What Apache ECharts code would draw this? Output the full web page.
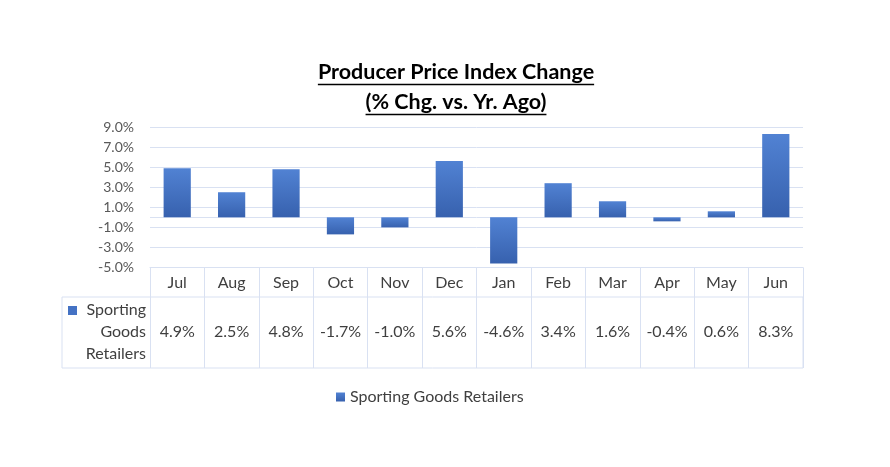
<!DOCTYPE html>
<html style="height: 100%">
  <head>
    <meta charset="utf-8" />
  </head>
  <body style="height: 100%; margin: 0; background: #fff">
    <div id="container" style="width: 890px; height: 467px"></div>
    <script type="text/javascript" src="https://cdn.jsdelivr.net/npm/echarts@6/dist/echarts.min.js"></script>
    <script type="text/javascript">
      var months = ['Jul', 'Aug', 'Sep', 'Oct', 'Nov', 'Dec', 'Jan', 'Feb', 'Mar', 'Apr', 'May', 'Jun'];
      var retailers = [4.9, 2.5, 4.8, -1.7, -1.0, 5.6, -4.6, 3.4, 1.6, -0.4, 0.6, 8.3];
      var yLabels = [-5, -3, -1, 1, 3, 5, 7, 9];
      var yLines = [-5, -3, -1, 0, 1, 3, 5, 7, 9];
      var seriesName = 'Sporting Goods Retailers';
      var titleLines = ['Producer Price Index Change', '(% Chg. vs. Yr. Ago)'];

      var FONT = 'Lato, "Open Sans", sans-serif';
      var gridColor = '#d9e1f2';
      var textColor = '#3f3f3f';
      // plot / table box (px)
      var plotLeft = 150, plotRight = 803, plotTop = 127, axisY = 267.5, tableBottom = 368, rowSplit = 297;
      var yMin = -5, yMax = 9;

      function pct(v) {
        return v.toFixed(1) + '%';
      }

      // axis ticks every 1, only some get a line / label
      var lineColors = [];
      for (var v = yMin; v <= yMax; v++) {
        lineColors.push(yLines.indexOf(v) >= 0 ? gridColor : 'rgba(0,0,0,0)');
      }

      // width of title text for the underline
      var titleFont = 'bold 21.5px ' + FONT;
      var ctx = document.createElement('canvas').getContext('2d');
      ctx.font = titleFont;
      var titleCx = 456;
      var titleY = [72, 102];
      var titleGraphics = [];
      titleLines.forEach(function (t, i) {
        var w = ctx.measureText(t).width;
        titleGraphics.push({
          type: 'text',
          style: { text: t, x: titleCx, y: titleY[i], textAlign: 'center', textVerticalAlign: 'middle',
                   font: titleFont, fill: '#000' }
        });
        titleGraphics.push({
          type: 'line',
          shape: { x1: titleCx - w / 2, y1: titleY[i] + 12.5, x2: titleCx + w / 2, y2: titleY[i] + 12.5 },
          style: { stroke: '#000', lineWidth: 1.5 }
        });
      });

      var myChart = echarts.init(document.getElementById('container'));

      var option = {
        animation: false,
        grid: [
          { left: plotLeft, right: 890 - plotRight, top: plotTop, height: axisY - plotTop },
          { left: plotLeft, right: 890 - plotRight, top: axisY, height: tableBottom - axisY }
        ],
        legend: {
          data: [seriesName],
          left: 331,
          top: 384,
          icon: 'rect',
          itemWidth: 9,
          itemHeight: 9,
          itemGap: 4,
          textStyle: { fontSize: 16, color: textColor, fontFamily: FONT }
        },
        xAxis: [
          {
            type: 'category',
            gridIndex: 0,
            data: months,
            position: 'bottom',
            axisLine: { onZero: false, lineStyle: { color: gridColor } },
            axisTick: { show: false },
            axisLabel: { margin: 7, fontSize: 16, color: textColor, fontFamily: FONT }
          },
          {
            type: 'category',
            gridIndex: 1,
            data: months,
            position: 'bottom',
            axisLine: { show: false },
            axisTick: { show: false },
            splitLine: { show: true, lineStyle: { color: gridColor } },
            axisLabel: {
              inside: true,
              margin: 36,
              verticalAlign: 'middle',
              fontSize: 16,
              color: textColor,
              fontFamily: FONT,
              formatter: function (v, i) {
                return pct(retailers[i]);
              }
            }
          }
        ],
        yAxis: [
          {
            type: 'value',
            gridIndex: 0,
            min: yMin,
            max: yMax,
            interval: 1,
            axisLine: { show: false },
            axisTick: { show: false },
            splitLine: { lineStyle: { color: lineColors } },
            axisLabel: {
              margin: 16,
              fontSize: 14,
              color: '#595959',
              fontFamily: FONT,
              formatter: function (v) {
                return yLabels.indexOf(v) >= 0 ? pct(v) : '';
              }
            }
          },
          { type: 'value', gridIndex: 1, show: false, splitLine: { show: false } }
        ],
        graphic: titleGraphics.concat([
          {
            type: 'rect',
            shape: { x: 62, y: rowSplit, width: plotRight - 62, height: tableBottom - rowSplit },
            style: { fill: 'none', stroke: gridColor, lineWidth: 1 }
          },
          {
            type: 'rect',
            shape: { x: 68, y: 306, width: 9, height: 9 },
            style: { fill: '#4472c4' }
          },
          {
            type: 'text',
            style: { text: 'Sporting\nGoods\nRetailers', x: 146, y: 299, textAlign: 'right',
                     font: '16px ' + FONT, lineHeight: 22, fill: textColor }
          }
        ]),
        series: [
          {
            name: seriesName,
            type: 'bar',
            xAxisIndex: 0,
            yAxisIndex: 0,
            barWidth: '50%',
            data: retailers,
            itemStyle: {
              color: new echarts.graphic.LinearGradient(0, 0, 0, 1, [
                { offset: 0, color: '#5182d3' },
                { offset: 1, color: '#3761ae' }
              ])
            }
          },
          {
            // invisible series that carries the data table axis
            name: 'table',
            type: 'line',
            xAxisIndex: 1,
            yAxisIndex: 1,
            data: retailers,
            silent: true,
            showSymbol: false,
            lineStyle: { opacity: 0 }
          }
        ]
      };

      myChart.setOption(option);
    </script>
  </body>
</html>
